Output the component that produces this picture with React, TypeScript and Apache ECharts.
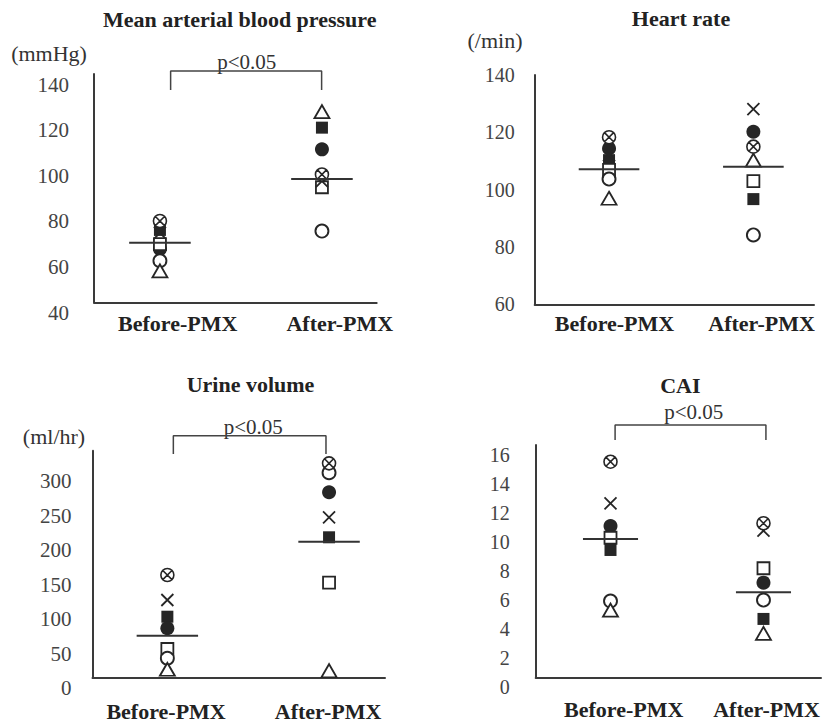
import React, { useEffect, useRef } from 'react';
import * as echarts from 'echarts';

// ---------- data ----------
const categories = ['Before-PMX', 'After-PMX'];
// marker of each patient, same order in every value array below
const patientMarkers = ['openTriangle', 'filledSquare', 'filledCircle', 'circleCross', 'cross', 'openSquare', 'openCircle'];

// Mean arterial blood pressure (mmHg)
const mapBefore = [53.8, 71.7, 63.3, 75.6, 70.4, 65.5, 58.2];
const mapAfter = [123.5, 116.5, 107, 96, 93.1, 90.4, 71.2];
const mapCenter = [66.1, 94];
const mapTicks = [40, 60, 80, 100, 120, 140];
const mapBracket = [133, 141.3];

// Heart rate (/min)
const hrBefore = [97, 110.3, 114.4, 118.3, 112, 106.9, 103.7];
const hrAfter = [110.3, 96.7, 120.2, 115, 128.1, 103, 84.2];
const hrCenter = [107.1, 108];
const hrTicks = [60, 80, 100, 120, 140];

// Urine volume (ml/hr)
const urineBefore = [12.2, 88.4, 71.6, 148.8, 112.6, 41.6, 28.1];
const urineAfter = [10.1, 203.5, 268.7, 310.7, 232.5, 137.7, 297.1];
const urineCenter = [60.9, 197.1];
const urineTicks = [0, 50, 100, 150, 200, 250, 300];
const urineBracket = [324.2, 350.7];

// CAI
const caiBefore = [4.63, 8.77, 10.42, 14.85, 11.98, 9.61, 5.25];
const caiAfter = [3.03, 4.02, 6.52, 10.61, 10.1, 7.51, 5.32];
const caiCenter = [9.52, 5.85];
const caiTicks = [0, 2, 4, 6, 8, 10, 12, 14, 16];
const caiBracket = [16.34, 17.38];

const pText = 'p<0.05';

// ---------- styling / layout ----------
const FONT = "'Liberation Serif', 'Times New Roman', serif";
const DARK = '#262626';
const AXIS = '#3a3a3a';

const MARKERS: Record<string, any> = {
  openTriangle: { symbol: 'triangle', size: [15, 13], fill: '#ffffff', bw: 1.8 },
  filledSquare: { symbol: 'rect', size: 12, fill: DARK, bw: 0 },
  filledCircle: { symbol: 'circle', size: 14, fill: DARK, bw: 0 },
  circleCross: {
    symbol: 'path://M0,10A10,10,0,1,1,20,10A10,10,0,1,1,0,10ZM3,3L17,17M17,3L3,17',
    size: 13,
    fill: '#ffffff',
    bw: 1.6,
  },
  cross: { symbol: 'path://M0,0L20,20M20,0L0,20', size: 12, fill: 'none', bw: 1.8 },
  openSquare: { symbol: 'rect', size: 12, fill: '#ffffff', bw: 1.8 },
  openCircle: { symbol: 'circle', size: 13, fill: '#ffffff', bw: 1.9 },
};
const drawOrder = ['filledSquare', 'filledCircle', 'openSquare', 'openCircle', 'openTriangle', 'cross', 'circleCross'];

const panels = [
  {
    before: mapBefore, after: mapAfter, center: mapCenter, ticks: mapTicks, ymin: 40, ymax: 140,
    grid: { left: 94, top: 74, width: 282.7, height: 228.3 },
    xmin: 0.593, xmax: 2.338, labelPos: [1.11, 2.11], xMargin: 10,
    yFont: 21, yMargin: 25, yAlign: 'top', half: 0.19,
    bracket: mapBracket, bracketX: [1.066, 1.998],
  },
  {
    before: hrBefore, after: hrAfter, center: hrCenter, ticks: hrTicks, ymin: 60, ymax: 140,
    grid: { left: 534.7, top: 75, width: 279.3, height: 229.3 },
    xmin: 0.485, xmax: 2.42, labelPos: [1.038, 2.057], xMargin: 8,
    yFont: 20, yMargin: 20, yAlign: 'middle', half: 0.21,
    bracket: null, bracketX: null,
  },
  {
    before: urineBefore, after: urineAfter, center: urineCenter, ticks: urineTicks, ymin: 0, ymax: 329,
    grid: { left: 92.5, top: 450.7, width: 292.5, height: 227 },
    xmin: 0.537, xmax: 2.346, labelPos: [0.992, 1.994], xMargin: 23,
    yFont: 21, yMargin: 21, yAlign: 'top', half: 0.19,
    bracket: urineBracket, bracketX: [1.037, 1.981],
  },
  {
    before: caiBefore, after: caiAfter, center: caiCenter, ticks: caiTicks, ymin: 0, ymax: 16,
    grid: { left: 535.7, top: 445, width: 285.3, height: 232.3 },
    xmin: 0.511, xmax: 2.376, labelPos: [1.086, 2.02], xMargin: 21,
    yFont: 20, yMargin: 26, yAlign: 'top', half: 0.18,
    bracket: caiBracket, bracketX: [1.03, 2.016],
  },
];

const texts = [
  { text: 'Mean arterial blood pressure', x: 239.7, y: 19, size: 22, bold: true },
  { text: 'Heart rate', x: 681, y: 18.3, size: 22, bold: true },
  { text: 'Urine volume', x: 250.5, y: 384.3, size: 22, bold: true },
  { text: 'CAI', x: 680.3, y: 385.7, size: 22, bold: true },
  { text: '(mmHg)', x: 49, y: 53.3, size: 22, bold: false },
  { text: '(/min)', x: 495, y: 40, size: 22, bold: false },
  { text: '(ml/hr)', x: 54, y: 436, size: 22, bold: false },
  { text: pText, x: 246.7, y: 62.3, size: 21, bold: false },
  { text: pText, x: 253.3, y: 427.3, size: 21, bold: false },
  { text: pText, x: 693.7, y: 411.7, size: 21, bold: false },
];

function buildOption() {
  const grids: any[] = [];
  const xAxes: any[] = [];
  const yAxes: any[] = [];
  const series: any[] = [];

  panels.forEach((p, i) => {
    grids.push({ ...p.grid, containLabel: false });
    xAxes.push({
      type: 'value',
      gridIndex: i,
      min: p.xmin,
      max: p.xmax,
      axisLine: { show: true, onZero: false, lineStyle: { color: AXIS, width: 2 } },
      axisTick: { show: false },
      splitLine: { show: false },
      axisLabel: {
        customValues: p.labelPos,
        formatter: (v: number) => categories[Math.round(v) - 1] || '',
        margin: p.xMargin,
        fontSize: 22,
        fontWeight: 'bold',
        fontFamily: FONT,
        color: '#222',
      },
    });
    yAxes.push({
      type: 'value',
      gridIndex: i,
      min: p.ymin,
      max: p.ymax,
      axisLine: { show: true, onZero: false, lineStyle: { color: AXIS, width: 2 } },
      axisTick: { show: false },
      splitLine: { show: false },
      axisLabel: {
        customValues: p.ticks,
        margin: p.yMargin,
        fontSize: p.yFont,
        fontFamily: FONT,
        color: '#444',
        verticalAlign: p.yAlign,
      },
    });

    // centre lines
    p.center.forEach((c, g) => {
      const cx = g + 1;
      series.push({
        type: 'line',
        xAxisIndex: i,
        yAxisIndex: i,
        data: [[cx - p.half, c], [cx + p.half, c]],
        symbol: 'none',
        lineStyle: { color: '#333', width: 2 },
        silent: true,
        z: 5,
      });
    });

    // patients
    drawOrder.forEach((m) => {
      const k = patientMarkers.indexOf(m);
      const mk = MARKERS[m];
      series.push({
        type: 'scatter',
        xAxisIndex: i,
        yAxisIndex: i,
        data: [[1, p.before[k]], [2, p.after[k]]],
        symbol: mk.symbol,
        symbolSize: mk.size,
        itemStyle: { color: mk.fill, borderColor: DARK, borderWidth: mk.bw, opacity: 1 },
        silent: true,
        z: 3,
      });
    });

    if (p.bracket && p.bracketX) {
      const [lo, hi] = p.bracket;
      const [x1, x2] = p.bracketX;
      series.push({
        type: 'line',
        xAxisIndex: i,
        yAxisIndex: i,
        data: [[x1, lo], [x1, hi], [x2, hi], [x2, lo]],
        symbol: 'none',
        clip: false,
        lineStyle: { color: '#444', width: 1.5 },
        silent: true,
        z: 4,
      });
    }
  });

  return {
    animation: false,
    backgroundColor: '#ffffff',
    grid: grids,
    xAxis: xAxes,
    yAxis: yAxes,
    series,
    graphic: texts.map((t) => ({
      type: 'text',
      x: t.x,
      y: t.y,
      silent: true,
      style: {
        text: t.text,
        fontSize: t.size,
        fontWeight: t.bold ? 'bold' : 'normal',
        fontFamily: FONT,
        fill: t.bold ? '#222' : '#333',
        align: 'center',
        verticalAlign: 'middle',
      },
    })),
  };
}

export default function App() {
  const ref = useRef<HTMLDivElement>(null);
  useEffect(() => {
    if (!ref.current) return;
    const chart = echarts.init(ref.current, null, { renderer: 'svg' });
    chart.setOption(buildOption() as any);
    return () => chart.dispose();
  }, []);
  return (
    <div
      ref={ref}
      style={{ position: 'fixed', left: 0, top: 0, width: 823, height: 724, background: '#fff' }}
    />
  );
}
